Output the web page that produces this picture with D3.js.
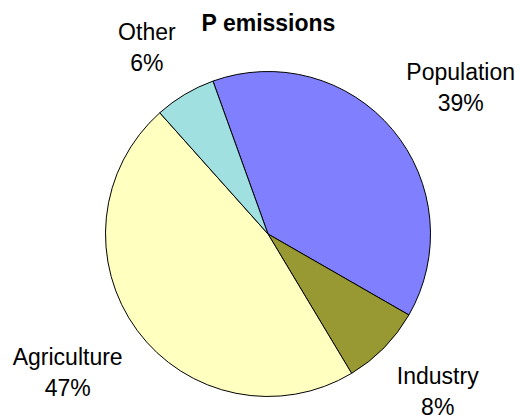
<!DOCTYPE html>
<html>
<head>
<meta charset="utf-8">
<script src="https://cdn.jsdelivr.net/npm/d3@7"></script>
<style>
  html, body { margin: 0; padding: 0; background: #fff; }
  svg { display: block; }
  text { font-family: "Liberation Sans", Arial, sans-serif; fill: #000; }
</style>
</head>
<body>
<svg id="chart" width="520" height="418"></svg>
<script>
const categories = ["Population", "Industry", "Agriculture", "Other"];
const values = [38.8, 8.1, 47.0, 6.1];
const colors = ["#8080FF", "#999933", "#FFFFC0", "#A0E0E0"];
const title = "P emissions";

const W = 520, H = 418;
const cx = 268, cy = 234, R = 162.5;
const startDeg = -19.8;

const svg = d3.select("#chart");
const g = svg.append("g").attr("transform", `translate(${cx},${cy})`);

const pie = d3.pie().sort(null).value(d => d)
  .startAngle(startDeg * Math.PI / 180)
  .endAngle((startDeg + 360) * Math.PI / 180);
const arcs = pie(values);
const arc = d3.arc().innerRadius(0).outerRadius(R);

g.selectAll("path.slice").data(arcs).enter().append("path")
  .attr("class", "slice")
  .attr("d", arc)
  .attr("fill", (d, i) => colors[i])
  .attr("stroke", "#000")
  .attr("stroke-width", 1)
  .attr("stroke-linejoin", "round");

svg.append("text")
  .attr("x", 268.5).attr("y", 31)
  .attr("text-anchor", "middle")
  .attr("font-size", 23).attr("font-weight", "bold")
  .text(title);

const total = d3.sum(values);
const fs = 23, lineGap = 31, boxH = 62, gap = 18;
arcs.forEach((d, i) => {
  const a = (d.startAngle + d.endAngle) / 2;
  const s = Math.sin(a), c = Math.cos(a);
  const ax = (R + gap) * s, ay = -(R + gap) * c;
  const t = g.append("text").attr("text-anchor", "middle").attr("font-size", fs);
  const l1 = t.append("tspan").text(categories[i]);
  const l2 = t.append("tspan").text(Math.round(values[i] / total * 100) + "%");
  const w = Math.max(l1.node().getComputedTextLength(), l2.node().getComputedTextLength());
  const bx = ax + Math.sign(s) * w / 2;
  const by = ay - Math.sign(c) * boxH / 2;
  l1.attr("x", bx).attr("y", by - lineGap / 2 + 8);
  l2.attr("x", bx).attr("y", by + lineGap / 2 + 8);
});
</script>
</body>
</html>
